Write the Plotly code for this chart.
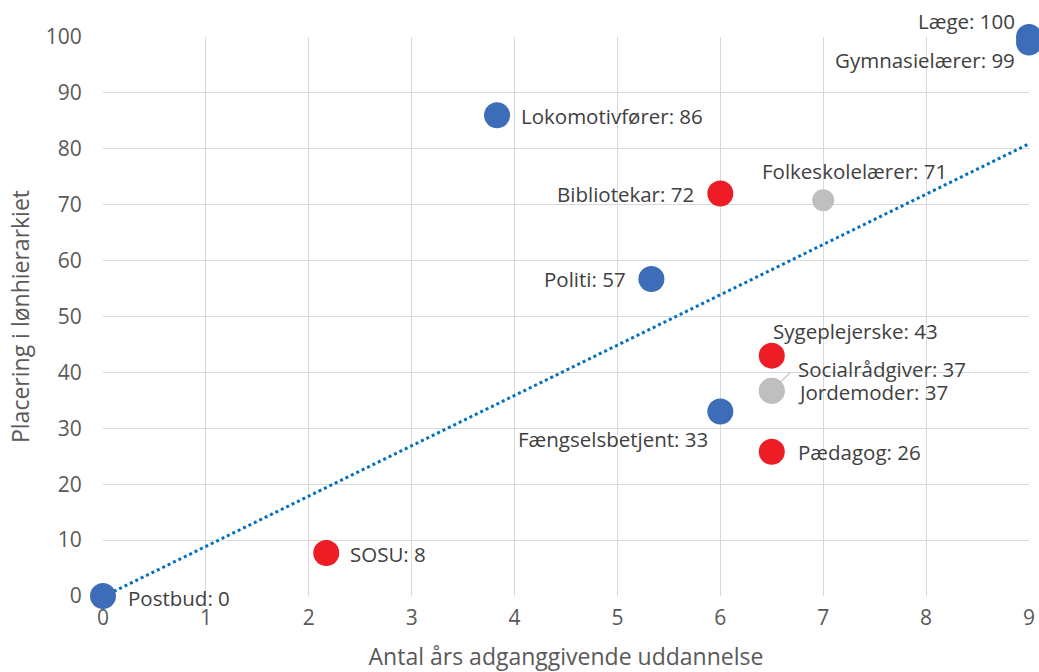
import numpy as np
import plotly.graph_objects as go

# ---- data ----
jobs = ["Postbud", "SOSU", "Lokomotivfører", "Politi", "Fængselsbetjent", "Bibliotekar",
        "Sygeplejerske", "Socialrådgiver", "Jordemoder", "Pædagog", "Folkeskolelærer",
        "Læge", "Gymnasielærer"]
years = [0, 2.17, 3.83, 5.33, 6, 6, 6.5, 6.5, 6.5, 6.5, 7, 9, 9]
rank = [0, 7.7, 86, 56.7, 33, 72, 43, 36.7, 36.7, 25.8, 70.8, 100, 99]
rank_label = [0, 8, 86, 57, 33, 72, 43, 37, 37, 26, 71, 100, 99]
group = ["blue", "red", "blue", "blue", "blue", "red", "red", "gray", "gray", "red", "gray", "blue", "blue"]

x_ticks = list(range(0, 10))
y_ticks = list(range(0, 101, 10))

# ---- styles ----
colors = {"blue": "#3D6CB9", "red": "#EE1C25", "gray": "#BFBFBF"}
sizes = [26] * len(jobs)
sizes[jobs.index("Folkeskolelærer")] = 22
# label placement: (xanchor, yanchor, xshift, yshift)
placement = {
    "Postbud": ("left", "middle", 23, -2),
    "SOSU": ("left", "middle", 22, -1),
    "Lokomotivfører": ("left", "middle", 22, -1),
    "Politi": ("right", "middle", -23, 0),
    "Fængselsbetjent": ("right", "middle", -10, -27),
    "Bibliotekar": ("right", "middle", -24, 0),
    "Sygeplejerske": ("left", "middle", -1, 25),
    "Socialrådgiver": ("left", "middle", 24, 22),
    "Jordemoder": ("left", "middle", 24, -1),
    "Pædagog": ("left", "middle", 24, 0),
    "Folkeskolelærer": ("left", "middle", -63, 29),
    "Læge": ("right", "middle", -12, 16),
    "Gymnasielærer": ("right", "middle", -12, -17),
}
leader_for = "Socialrådgiver"

FONT = "Open Sans"
TXT = "#404040"
AX = "#595959"

fig = go.Figure()

# linear trendline from data
slope, intercept = np.polyfit(np.array(years), np.array(rank), 1)
tx = np.array([min(x_ticks), max(x_ticks)], dtype=float)
fig.add_trace(go.Scatter(x=tx, y=slope * tx + intercept, mode="lines",
                         line=dict(color="#0070C0", width=3, dash="dot"),
                         hoverinfo="skip", showlegend=False))

fig.add_trace(go.Scatter(
    x=years, y=rank, mode="markers",
    marker=dict(color=[colors[g] for g in group], size=sizes, opacity=1, line=dict(width=0)),
    opacity=1, cliponaxis=False, showlegend=False,
    text=jobs, hovertemplate="%{text}: %{y}<extra></extra>"))

for j, xv, yv, lv in zip(jobs, years, rank, rank_label):
    xa, ya, xs, ys = placement[j]
    fig.add_annotation(x=xv, y=yv, text=f"{j}: {lv}", showarrow=False,
                       xanchor=xa, yanchor=ya, xshift=xs, yshift=ys,
                       font=dict(family=FONT, size=20.5, color=TXT))
    if j == leader_for:
        # small leader line from the marker toward its label
        fig.add_annotation(x=xv, y=yv, text="", showarrow=True, arrowhead=0,
                           arrowwidth=1.2, arrowcolor="#BFBFBF", standoff=12,
                           ax=20, ay=-20)

fig.update_layout(
    width=1039, height=672,
    margin=dict(l=103, r=10, t=37, b=76, autoexpand=False),
    paper_bgcolor="white", plot_bgcolor="white",
    font=dict(family=FONT, color=AX),
)
fig.update_xaxes(range=[0, 9], tickvals=x_ticks, showgrid=True, gridcolor="#D9D9D9",
                 gridwidth=1, zeroline=False, showline=False, automargin=False,
                 ticks="outside", ticklen=3, tickcolor="rgba(0,0,0,0)",
                 tickfont=dict(family=FONT, size=21, color=AX),
                 title=dict(text="Antal års adganggivende uddannelse",
                            font=dict(family=FONT, size=23, color=AX), standoff=22))
fig.update_yaxes(range=[0, 100], tickvals=y_ticks, showgrid=True, gridcolor="#D9D9D9",
                 gridwidth=1, zeroline=False, showline=False, automargin=False,
                 ticks="outside", ticklen=16, tickcolor="rgba(0,0,0,0)",
                 tickfont=dict(family=FONT, size=21, color=AX),
                 title=dict(text="Placering i lønhierarkiet",
                            font=dict(family=FONT, size=23, color=AX), standoff=9))

fig.write_html("out.html", config={"displayModeBar": False},
               post_script="document.body.style.margin='0';document.body.style.overflow='hidden';")
